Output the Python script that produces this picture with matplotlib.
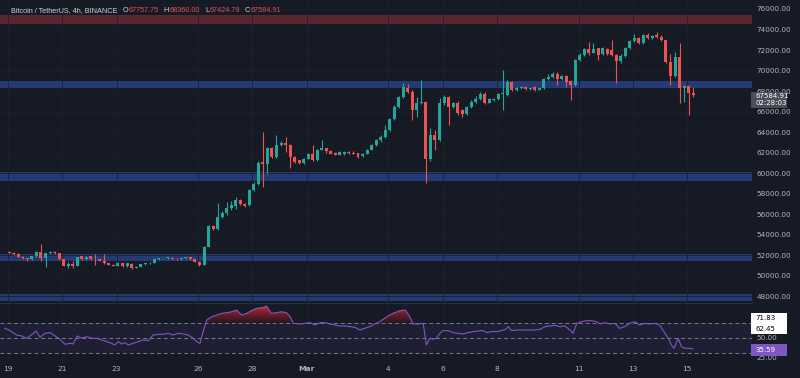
import numpy as np
import matplotlib
matplotlib.use('Agg')
import matplotlib.pyplot as plt
from matplotlib.colors import LinearSegmentedColormap
from matplotlib.patches import PathPatch, Rectangle
from matplotlib.path import Path
from matplotlib.lines import Line2D

# ---------------- data (4h candles, BTC/USDT, Feb 19 -> Mar 15) ----------------
opens = [52300, 52200, 52100, 51850, 51680, 51580, 51880, 52300, 51700, 52150,
         52330, 52150, 51600, 50950, 51100, 50970, 51880, 51600, 51880, 51620,
         51580, 51450, 51200, 51050, 50950, 51250, 50900, 51150, 50750, 50850,
         51100, 51200, 51250, 51580, 51680, 51700, 51720, 51650, 51580, 51680,
         51780, 51600, 51350, 51050, 52800, 54850, 54500, 55750, 56050, 56550,
         56800, 57350, 56950, 56850, 58300, 58950, 61100, 60900, 62400, 61600,
         62750, 62950, 62750, 61600, 61250, 61000, 61400, 61900, 61250, 62250,
         62400, 62100, 61950, 61800, 61850, 62050, 62000, 61950, 61650, 61900,
         62250, 62700, 63200, 63550, 64200, 65300, 66450, 67400, 68300, 67950,
         66150, 66800, 66950, 61350, 63700, 63250, 66800, 67400, 66450, 66800,
         66100, 65800, 66450, 66950, 67250, 67700, 66850, 67150, 67200, 67700,
         67600, 68900, 68100, 68250, 68350, 68200, 68350, 68100, 68250, 69150,
         69350, 69650, 69150, 69450, 68950, 68600, 71000, 71500, 72050, 71750,
         72150, 71650, 72050, 72000, 71550, 70900, 71450, 72150, 72900, 73150,
         72700, 73450, 73150, 73450, 73300, 72950, 70850, 69450, 71350, 68250,
         68480, 67757.75]
highs = [52350, 52300, 52150, 51900, 51720, 51950, 52350, 53050, 52200, 52400,
         52380, 52200, 51650, 51300, 51400, 51850, 51950, 51900, 51950, 52100,
         51650, 52100, 51250, 51150, 51300, 51300, 51250, 51200, 50900, 51150,
         51250, 51300, 51600, 51720, 51750, 51770, 51760, 51700, 51720, 51850,
         51800, 51650, 51400, 52900, 54950, 54950, 57100, 56250, 57200, 57300,
         57700, 57450, 57100, 58400, 59100, 61200, 64000, 62500, 62500, 63700,
         63100, 63550, 62800, 61700, 61300, 61450, 62000, 62700, 62300, 63200,
         62450, 62200, 62050, 62100, 62150, 62150, 62100, 62000, 61950, 62300,
         62800, 63300, 63700, 64700, 65400, 66600, 67500, 68750, 68700, 68100,
         67450, 69050, 67000, 64350, 64200, 67300, 67650, 67500, 66900, 67000,
         66200, 66550, 67100, 67500, 67950, 67950, 67300, 67350, 67850, 70050,
         69050, 69000, 68400, 68450, 68500, 68400, 68450, 68350, 69250, 69700,
         69900, 69850, 69600, 69550, 69100, 71100, 71700, 72200, 72800, 72650,
         72200, 72300, 72150, 72950, 71650, 71600, 72250, 73000, 73600, 73250,
         73550, 73650, 73450, 73750, 73450, 73000, 71650, 71850, 72650, 68550,
         68600, 68360.00]
lows = [52150, 52000, 51800, 51600, 51400, 51550, 51850, 51400, 50800, 52100,
        52100, 51550, 50900, 50700, 50700, 50950, 51550, 51550, 51550, 51050,
        51400, 51150, 51000, 50900, 50900, 50850, 50850, 50600, 50700, 50800,
        51050, 51150, 51200, 51550, 51650, 51650, 51620, 51550, 51550, 51650,
        51550, 51300, 50950, 51000, 52750, 54400, 54400, 55600, 55950, 56400,
        56500, 56850, 56700, 56800, 58200, 58800, 58650, 59950, 61500, 61500,
        62650, 62080, 60450, 60950, 60850, 60900, 61350, 61200, 61200, 62200,
        62000, 61850, 61750, 61750, 61800, 61900, 61850, 61450, 61600, 61850,
        62200, 62600, 63050, 63400, 64100, 65200, 66300, 67300, 67850, 65200,
        65500, 66750, 59000, 61200, 62250, 63150, 66600, 64700, 66300, 65700,
        65500, 65700, 66350, 66800, 67150, 66750, 66800, 67050, 67150, 66150,
        67500, 68000, 68000, 68150, 68100, 68100, 68000, 68050, 68200, 69100,
        69300, 68600, 69050, 68400, 67100, 68500, 70900, 71400, 71500, 71700,
        71000, 71550, 71500, 71400, 68750, 70750, 71350, 72050, 72800, 72600,
        72600, 73050, 73050, 73200, 72850, 70700, 68600, 69350, 66800, 66950,
        65650, 67424.79]
closes = [52200, 52100, 51850, 51680, 51580, 51880, 52300, 51700, 52150, 52330,
          52150, 51600, 50950, 51100, 50970, 51800, 51600, 51830, 51580, 51580,
          51450, 51200, 51050, 50950, 51250, 50900, 51200, 50700, 50850, 51100,
          51200, 51250, 51580, 51680, 51700, 51720, 51650, 51580, 51680, 51780,
          51600, 51350, 51050, 52800, 54850, 54500, 55750, 56100, 56600, 56850,
          57350, 56950, 56800, 58300, 58950, 61000, 60850, 62400, 61600, 62750,
          62950, 62750, 61600, 61100, 60950, 61400, 61900, 61250, 62250, 62400,
          62100, 61900, 61800, 62050, 62050, 61950, 61900, 61600, 61900, 62250,
          62700, 63200, 63550, 64200, 65300, 66450, 67400, 68400, 67950, 66100,
          66800, 66950, 61350, 63700, 63250, 66800, 67400, 66450, 66800, 65850,
          65800, 66450, 66950, 67250, 67750, 66850, 67200, 67200, 67750, 67800,
          68900, 68100, 68250, 68350, 68200, 68250, 68100, 68250, 69150, 69400,
          69700, 69150, 69450, 68900, 68600, 71000, 71500, 72050, 71700, 72050,
          71500, 72150, 71650, 71550, 70900, 71450, 72150, 72900, 73150, 72700,
          73450, 73150, 73350, 73300, 72950, 70850, 69450, 71350, 68250, 68480,
          67780, 67584.91]

day_labels = ['19', '21', '23', '26', '28', 'Mar', '4', '6', '8', '11', '13', '15']
day_offsets = [0, 2, 4, 7, 9, 11, 14, 16, 18, 21, 23, 25]   # days after Feb 19
candles_per_day = 6

price_ticks = list(range(48000, 76001, 2000))
blue_zones = [(68250, 69000), (59200, 60100), (51450, 52050), (47550, 48200)]
red_zone = (74500, 75400)

# RSI(14) (x in candle index units)
rsi_t = [-1.0, 0.2, 1.6, 2.7, 3.8, 4.9, 5.9, 6.8, 7.9, 9.0, 10.1, 11.2, 12.3, 13.4,
         14.1, 15.0, 16.0, 17.1, 18.2, 19.3, 20.4, 21.5, 22.6, 23.3, 24.1, 24.8,
         25.5, 26.3, 27.4, 28.5, 29.6, 30.7, 31.8, 32.9, 34.0, 35.1, 36.2, 37.3,
         38.4, 39.5, 40.6, 41.7, 42.1, 42.8, 43.6, 44.7, 45.8, 46.9, 48.0, 49.1,
         50.2, 51.3, 52.4, 53.5, 54.6, 56.1, 56.8, 57.9, 59.0, 60.1, 61.2, 62.0,
         62.7, 64.2, 65.3, 66.4, 67.5, 68.6, 69.7, 70.8, 71.9, 73.0, 74.1, 75.2,
         76.3, 77.4, 78.5, 79.6, 80.7, 81.8, 82.9, 84.0, 85.1, 86.2, 87.4, 88.2,
         89.2, 90.3, 91.4, 92.1, 92.9, 93.6, 94.3, 95.1, 95.8, 96.9, 98.0, 99.1,
         100.2, 101.3, 102.4, 103.5, 104.6, 105.5, 106.5, 107.6, 108.7, 109.6,
         110.2, 110.9, 112.0, 113.5, 115.0, 116.1, 117.2, 118.3, 119.4, 120.5,
         121.6, 122.7, 123.8, 124.5, 125.3, 126.4, 127.5, 128.6, 129.7, 130.4,
         131.5, 132.6, 133.7, 134.8, 135.9, 137.0, 138.1, 139.2, 140.3, 141.4,
         142.5, 143.6, 144.8, 145.5, 146.2, 146.8, 147.7, 148.4, 149.2, 150.3, 151.0]
rsi_v = [62.6, 59.6, 53.9, 52.6, 49.6, 53.9, 59.1, 50.9, 56.1, 57.0, 52.6, 48.3,
         41.7, 43.0, 42.2, 52.6, 49.6, 51.7, 49.6, 49.6, 47.4, 45.2, 43.0, 40.9,
         45.2, 42.2, 43.9, 40.9, 43.0, 45.2, 47.4, 46.5, 53.9, 54.8, 54.8, 56.1,
         53.9, 56.1, 55.2, 53.9, 49.6, 43.9, 43.0, 58.3, 73.5, 77.8, 80.0, 82.2,
         83.0, 84.3, 86.5, 80.0, 82.2, 85.7, 88.7, 90.0, 91.7, 82.2, 83.0, 84.3,
         83.0, 77.8, 69.1, 68.3, 69.1, 70.0, 67.0, 70.0, 70.0, 68.3, 67.0, 65.7,
         65.7, 64.8, 63.9, 60.4, 62.6, 64.8, 68.3, 71.3, 75.7, 80.0, 83.0, 85.7,
         86.5, 80.0, 68.3, 68.3, 69.1, 40.9, 49.6, 48.3, 49.6, 56.1, 59.6, 59.6,
         57.0, 56.1, 55.2, 57.0, 58.3, 59.1, 59.6, 57.0, 58.3, 58.3, 59.6, 61.3,
         64.8, 59.6, 60.4, 60.4, 60.4, 60.4, 61.3, 64.8, 65.7, 66.5, 64.8, 65.7,
         60.4, 56.1, 69.1, 71.3, 72.6, 72.6, 71.3, 68.3, 70.0, 68.3, 69.1, 62.6,
         64.8, 69.1, 71.3, 67.0, 69.1, 68.3, 69.1, 67.0, 56.1, 49.6, 40.9, 36.5,
         49.6, 38.7, 36.5, 36.5, 35.59]
rsi_box_hi = ['71.83', '62.45']
rsi_last = '35.59'
countdown = '02:28:03'

# ---------------- style ----------------
BG = '#161a25'
GRID = '#1c202b'
TXT = '#b2b5be'
UP, DN = '#26a69a', '#ef5350'
BLUE = '#233a74'
RED_Z = '#5a2731'
PURPLE = '#7e57c2'

W, H = 800, 378
fig = plt.figure(figsize=(W / 100, H / 100), dpi=100, facecolor=BG)

def fx(px):
    return px / W

def fy(py):
    return 1 - py / H

ax = fig.add_axes([0, fy(302), fx(752), 302 / H], facecolor=BG)
ax2 = fig.add_axes([0, fy(360), fx(752), 57 / H], facecolor=BG, sharex=ax)
for a in (ax, ax2):
    for s in a.spines.values():
        s.set_visible(False)

n = len(closes)
x = np.arange(n)
o = np.array(opens); c = np.array(closes); h = np.array(highs); l = np.array(lows)
cols = np.where(c >= o, UP, DN)

# zones
for lo, hi in blue_zones:
    ax.axhspan(lo, hi, color=BLUE, lw=0, zorder=1)
ax.axhspan(red_zone[0], red_zone[1], color=RED_Z, lw=0, zorder=1)

# candles
ax.vlines(x, l, h, colors=cols, lw=0.8, zorder=3)
body_h = np.maximum(np.abs(c - o), 60)
ax.bar(x, body_h, bottom=np.minimum(o, c), width=0.66, color=cols, lw=0, zorder=4)

tick_pos = [d * candles_per_day - 0.3 for d in day_offsets]
ax.set_xlim(-2.05, 164.0)
ax.set_ylim(47415, 76878)
ax.set_yticks(price_ticks)
ax.set_yticklabels(['{:.2f}'.format(p) for p in price_ticks])
ax.yaxis.tick_right()
ax.tick_params(axis='y', length=0, pad=3, labelsize=5.2, labelcolor=TXT)
ax.set_xticks(tick_pos)
ax.tick_params(axis='x', length=0, labelbottom=False)
ax.grid(True, color=GRID, lw=0.6, zorder=0)

# ---------------- RSI pane ----------------
rt = np.array(rsi_t); rv = np.array(rsi_v)
ax2.set_ylim(21.2, 95.7)
ax2.axhspan(30, 70, color=PURPLE, alpha=0.09, lw=0, zorder=1)
for lvl in (70, 50, 30):
    ax2.axhline(lvl, color='#787b86', lw=0.7, ls=(0, (4, 3)), zorder=2)

fb = ax2.fill_between(rt, rv, 70, where=rv >= 70, interpolate=True,
                      facecolor='none', edgecolor='none')
paths = fb.get_paths()
if paths:
    cpath = Path.make_compound_path(*paths)
    patch = PathPatch(cpath, transform=ax2.transData, facecolor='none', edgecolor='none')
    ax2.add_patch(patch)
    cmap = LinearSegmentedColormap.from_list(
        'ob', [(0.35, 0.08, 0.12, 0.35), (0.80, 0.17, 0.22, 1.0)])
    grad = np.linspace(0, 1, 256).reshape(-1, 1)
    im = ax2.imshow(grad, extent=[-2.05, 164.0, 70, 92], origin='lower',
                    aspect='auto', cmap=cmap, zorder=2.5, interpolation='bilinear')
    im.set_clip_path(patch)

ax2.plot(rt, rv, color=PURPLE, lw=0.8, zorder=3)
ax2.set_xlim(-2.05, 164.0)
ax2.set_ylim(21.2, 95.7)
ax2.yaxis.tick_right()
ax2.set_yticks([25, 50])
ax2.set_yticklabels(['25.00', '50.00'])
ax2.tick_params(axis='y', length=0, pad=3, labelsize=5.2, labelcolor=TXT)
ax2.set_xticks(tick_pos)
ax2.set_xticklabels(day_labels)
ax2.tick_params(axis='x', length=0, pad=4, labelsize=5.4, labelcolor=TXT)
for lab in ax2.get_xticklabels():
    if lab.get_text() == 'Mar':
        lab.set_fontweight('bold')
ax2.grid(True, axis='x', color=GRID, lw=0.6, zorder=0)

# pane separator
fig.add_artist(Line2D([0, fx(752)], [fy(302.5), fy(302.5)], color='#2a2e39', lw=1.0))

# ---------------- right-side labels ----------------
fig.add_artist(Rectangle((fx(751), fy(107.5)), fx(36), 15.5 / H, facecolor='#4a4e59',
                         edgecolor='none', transform=fig.transFigure, zorder=5))
fig.text(fx(755), fy(95.8), '{:.2f}'.format(closes[-1]), color='white', fontsize=5.0,
         va='center', ha='left', zorder=6)
fig.text(fx(755), fy(103.4), countdown, color='white', fontsize=5.0,
         va='center', ha='left', zorder=6)

fig.add_artist(Rectangle((fx(751), fy(333.5)), fx(36), 20.5 / H, facecolor='white',
                         edgecolor='none', transform=fig.transFigure, zorder=5))
fig.text(fx(755), fy(318.3), rsi_box_hi[0], color='black', fontsize=5.0,
         va='center', ha='left', zorder=6)
fig.text(fx(755), fy(328.7), rsi_box_hi[1], color='black', fontsize=5.0,
         va='center', ha='left', zorder=6)
fig.add_artist(Rectangle((fx(751), fy(355.5)), fx(36), 12 / H, facecolor=PURPLE,
                         edgecolor='none', transform=fig.transFigure, zorder=5))
fig.text(fx(755), fy(349.5), rsi_last, color='white', fontsize=5.0,
         va='center', ha='left', zorder=6)

# ---------------- title (placed piece by piece) ----------------
renderer = fig.canvas.get_renderer()
ty = fy(11)
TF = dict(fontsize=5.2, va='center', family='Liberation Sans')
cur = 11.0

def put(s, color, gap_after):
    global cur
    t = fig.text(fx(cur), ty, s, color=color, **TF)
    bb = t.get_window_extent(renderer)
    cur = bb.x1 + gap_after
    return t

put('Bitcoin / TetherUS, 4h, BINANCE', '#d1d4dc', 5.0)
ohlc_vals = [opens[-1], highs[-1], lows[-1], closes[-1]]
for lab, val in zip(['O', 'H', 'L', 'C'], ohlc_vals):
    put(lab, '#d1d4dc', 0.6)
    put('{:.2f}'.format(val), '#e2505c', 5.0)

fig.savefig('out.png', dpi=100, facecolor=BG)
